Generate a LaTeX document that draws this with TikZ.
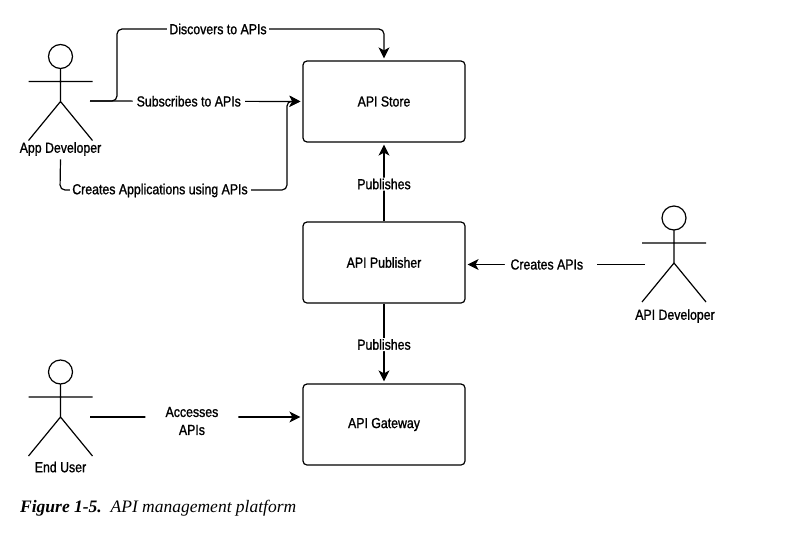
\documentclass[tikz,border=0pt]{standalone}
\usepackage{fontspec}
\setmainfont[FakeStretch=0.85,FakeBold=1.2]{Liberation Sans}
\newfontfamily\captionfont{Liberation Serif}
\usetikzlibrary{arrows.meta}
\tikzset{
  platform/.style={draw,rounded corners=4pt,minimum width=162pt,minimum height=81pt,inner sep=0pt,line width=1.2pt},
  flow/.style={line width=1.2pt,rounded corners=5pt},
  flowarrow/.style={flow,shorten >=2pt,-{Stealth[length=11pt,width=11pt,inset=3pt]}},
  tag/.style={fill=white,inner sep=0pt,minimum height=13pt},
  figure/.style={line width=1.2pt},
}
\begin{document}
\begin{tikzpicture}[x=1pt,y=-1pt,font=\fontsize{14.5}{18}\selectfont]
\useasboundingbox (0,0) rectangle (787,533);
% the three boxes
\node[platform] (store) at (384,101.5) {API Store};
\node[platform] (publisher) at (384,262.5) {API Publisher};
\node[platform] (gateway) at (384,424.5) {API Gateway};
% the stick figures
\foreach \x/\y in {60.5/44.5, 60.5/360, 674/206}
  \draw[figure,xshift=\x pt,yshift=-\y pt] (0,12) circle (12)
    (0,24) -- (0,57) (-32,37) -- (32,37) (-32,96) -- (0,57) -- (32,96);
% the names below them
\node (appdev) at (60.5,149) {App Developer};
\node (enduser) at (60.5,467) {End User};
\node (apidev) at (675,316) {API Developer};
% the free ends at the figures
\coordinate (appout) at (90,101);
\coordinate (userout) at (90,417);
\coordinate (devout) at (645,264.5);
% from the app developer to the store
\draw[flowarrow] (appout) -- (117,101) -- (117,29) -- (store.north |- 0,29) -- (store.north);
\node[tag,minimum width=102pt] (discovers) at (218,29) {Discovers to APIs};
\draw[flowarrow] (appout) -- (store.west)
  node[tag,pos=0.465,minimum width=112pt] (subscribes) {Subscribes to APIs};
\draw[flowarrow] (appdev.south) -- (60,190) -- (287,190) -- (287,101) -- (store.west);
\node[tag,minimum width=181pt] (creates) at (160,190.5) {Creates Applications using APIs};
% between the boxes
\draw[flowarrow] (publisher.north) -- (store.south)
  node[tag,midway,yshift=-2pt] (pubstore) {Publishes};
\draw[flowarrow] (publisher.south) -- (gateway.north)
  node[tag,midway,yshift=-1pt] (pubgateway) {Publishes};
% the two with wide gaps
\draw[flowarrow] (devout) -- (publisher.east |- devout)
  node[tag,pos=0.525,minimum width=92pt] (createsapis) {Creates APIs\hspace*{8pt}};
\draw[flowarrow] (userout) -- (gateway.west |- userout)
  node[tag,pos=0.48,minimum width=93pt,align=center,yshift=-4pt] (accesses) {Accesses\\APIs};
% the caption
\node[anchor=west,inner sep=0pt] (caption) at (20,508)
  {\captionfont\fontsize{17.5}{19}\selectfont\itshape\textbf{Figure 1-5.}\ \ API management platform};
\end{tikzpicture}
\end{document}
